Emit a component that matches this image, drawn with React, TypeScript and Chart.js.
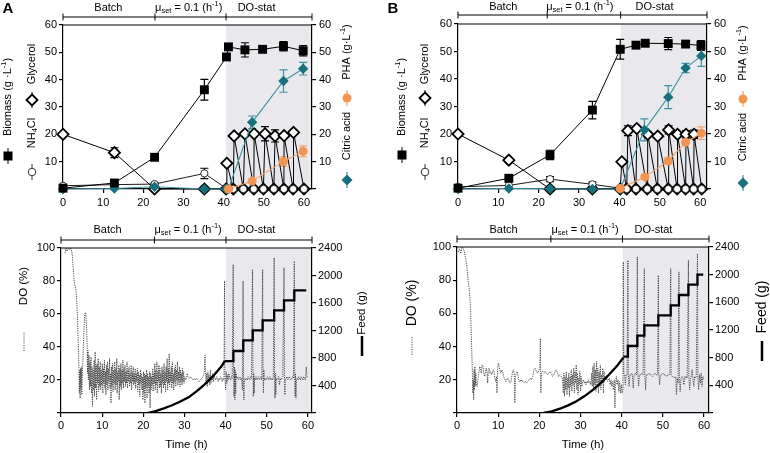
import React, { useEffect, useRef } from 'react';
import { Chart, registerables } from 'chart.js';
Chart.register(...registerables);

const FONT = "'Liberation Sans', Arial, Helvetica, sans-serif";
Chart.defaults.font.family = FONT;
Chart.defaults.color = '#000';

const TEAL = '#17707f';
const TEAL_LINE = '#3d93a5';
const ORANGE = '#f39552';
const ORANGE_LINE = '#f4a26b';
const SHADE = '#e9e9ed';

// ---------- Panel A (top) ----------
const aBiomassTime = [0, 12.8, 22.8, 35.2, 40.7, 41.2, 45.3, 49.7, 54.9, 59.8];
const aBiomass = [0.3, 2.2, 11.6, 36.3, 48.3, 52.0, 50.9, 51.1, 52.2, 50.6];
const aBiomassErr = [0, 0, 0, 3.8, 0, 0, 2.6, 0, 1.7, 1.9];

const aGlycerolTime = [0, 12.8, 22.8, 35.2, 40.6, 40.8, 42.4, 42.6, 44.9, 45.3, 47.5, 47.6, 49.9, 50.3, 52.5, 52.8, 55.0, 55.05, 57.3, 57.4, 60.0];
const aGlycerol = [20, 13.3, 0, 0, 0, 9.4, 0, 19.4, 0, 20.2, 0, 20.2, 0, 20.2, 0, 19.4, 0, 19.5, 0, 20.7, 0];
const aGlycerolErr = [0, 1.8, 0, 0, 0, 0, 0, 0, 0, 0, 0, 0, 0, 2.6, 0, 2.2, 0, 0, 0, 0, 0];

const aNh4Time = [0, 12.8, 22.8, 35.2, 40.6, 42.4, 44.9, 47.5, 49.9, 52.5, 55.0, 57.3, 60.0];
const aNh4 = [1.2, 1.6, 1.8, 5.7, 0.3, 0, 0, 0, 0, 0, 0, 0, 0];
const aNh4Err = [0, 0, 0.4, 1.9, 0, 0, 0, 0, 0, 0, 0, 0, 0];

const aCitricTime = [0, 12.8, 22.8, 35.2, 40.6, 41.2, 47.1, 54.9, 59.8];
const aCitric = [0, 0.2, 0.8, 0, 0, 0, 24.4, 39.5, 44.0];
const aCitricErr = [0, 0, 0, 0, 0, 0, 2.3, 4.1, 2.3];

const aPhaTime = [41.2, 47.1, 54.9, 59.8];
const aPha = [0, 2.9, 10.1, 13.8];
const aPhaErr = [0, 0, 1.7, 2.0];

// ---------- Panel B (top) ----------
const bBiomassTime = [0, 12.6, 22.8, 33.3, 40.2, 44.1, 46.4, 52.1, 56.4, 60.2];
const bBiomass = [0.3, 3.9, 12.4, 28.7, 50.8, 52.3, 53.0, 52.9, 52.7, 52.2];
const bBiomassErr = [0, 0, 1.7, 3.2, 3.6, 0.8, 0, 2.2, 0, 1.8];

const bGlycerolTime = [0, 12.6, 22.8, 33.3, 40.2, 40.6, 41.8, 42.1, 44.1, 44.3, 46.9, 47.0, 49.4, 49.5, 52.1, 52.2, 54.3, 54.4, 56.4, 56.5, 58.4, 58.5, 60.4];
const bGlycerol = [20, 10.5, 0, 0, 0, 9.9, 0, 21.2, 0, 22.0, 0, 19.9, 0, 19.2, 0, 21.5, 0, 19.9, 0, 19.9, 0, 19.9, 0];
const bGlycerolErr = [0, 0.7, 0, 0, 0, 0, 0, 1.8, 0, 0, 0, 0, 0, 0, 0, 1.5, 0, 0, 0, 1.3, 0, 1.5, 0];

const bNh4Time = [0, 12.6, 22.8, 33.3, 40.2, 41.8, 44.1, 46.9, 49.4, 52.1, 54.3, 56.4, 58.4, 60.4];
const bNh4 = [0.8, 1.3, 3.6, 1.7, 0.3, 0, 0, 0, 0, 0, 0, 0, 0, 0];
const bNh4Err = [0, 0, 0.9, 0.8, 0, 0, 0, 0, 0, 0, 0, 0, 0, 0];

const bCitricTime = [0, 12.6, 22.8, 33.3, 40.2, 46.2, 52.1, 56.4, 60.3];
const bCitric = [0, 0.2, 0.1, 0, 0, 21.5, 33.4, 44.0, 48.4];
const bCitricErr = [0, 0, 0, 0, 0, 4.0, 4.2, 1.7, 3.8];

const bPhaTime = [40.2, 46.3, 52.1, 56.4, 60.3];
const bPha = [0.2, 4.4, 10.2, 17.0, 20.3];
const bPhaErr = [0, 0, 1.2, 0, 2.3];

// ---------- Panel A (bottom): DO (%) and feed (g) ----------
const doA: [number, number][] = [
  [1.0, 97], [1.2, 100], [1.5, 98], [1.8, 100], [2.1, 99], [2.4, 100], [2.7, 97], [2.9, 90], [3.1, 83], [3.2, 80],
  [3.4, 77], [3.6, 75], [3.8, 70], [4.0, 58], [4.2, 42], [4.35, 28], [4.45, 12], [4.55, 26], [4.65, 9], [4.75, 27],
  [4.85, 15], [4.95, 28], [5.05, 11], [5.2, 24], [5.4, 38], [5.6, 52], [5.8, 60], [6.0, 61], [6.2, 52], [6.35, 42],
  [6.45, 24], [6.55, 38], [6.65, 20], [6.8, 35], [6.9, 14], [7.05, 31], [7.15, 16], [7.3, 34], [7.4, 12], [7.55, 28],
  [7.65, 4], [7.8, 26], [7.9, 14], [8.05, 32], [8.15, 10], [8.3, 37], [8.4, 15], [8.55, 29], [8.65, 8], [8.8, 30],
  [8.9, 18], [9.05, 33], [9.15, 13], [9.3, 28], [9.4, 16], [9.55, 31], [9.65, 14], [9.8, 26], [9.9, 17], [10.05, 30],
  [10.15, 12], [10.3, 27], [10.4, 18], [10.55, 32], [10.65, 15], [10.8, 25], [10.9, 11], [11.05, 29], [11.15, 17], [11.3, 31],
  [11.4, 14], [11.55, 27], [11.65, 19], [11.8, 33], [11.9, 15], [12.05, 24], [12.15, 6], [12.3, 28], [12.4, 16], [12.55, 30],
  [12.65, 13], [12.8, 26], [12.9, 18], [13.05, 31], [13.15, 14], [13.3, 27], [13.4, 17], [13.55, 33], [13.65, 12], [13.8, 25],
  [13.9, 19], [14.05, 29], [14.15, 8], [14.3, 27], [14.4, 16], [14.55, 30], [14.65, 14], [14.8, 26], [14.9, 18], [15.05, 32],
  [15.15, 15], [15.3, 27], [15.4, 19], [15.55, 29], [15.65, 16], [15.8, 25], [15.9, 18], [16.05, 31], [16.15, 15], [16.3, 26],
  [16.4, 19], [16.55, 28], [16.65, 16], [16.8, 24], [16.9, 18], [17.05, 29], [17.15, 14], [17.3, 25], [17.4, 19], [17.55, 28],
  [17.65, 17], [17.8, 24], [17.9, 18], [18.05, 27], [18.15, 15], [18.3, 24], [18.4, 19], [18.55, 27], [18.65, 13], [18.8, 25],
  [18.9, 17], [19.05, 23], [19.15, 10], [19.3, 26], [19.4, 18], [19.55, 24], [19.65, 14], [19.8, 22], [19.9, 8], [20.05, 25],
  [20.15, 12], [20.3, 24], [20.4, 6], [20.55, 23], [20.65, 15], [20.8, 26], [20.9, 9], [21.05, 24], [21.15, 16], [21.3, 22],
  [21.4, 12], [21.55, 25], [21.65, 3], [21.8, 24], [21.9, 14], [22.05, 22], [22.15, 17], [22.3, 27], [22.4, 13], [22.55, 24],
  [22.65, 18], [22.8, 30], [22.9, 14], [23.05, 26], [23.15, 17], [23.3, 31], [23.4, 12], [23.55, 25], [23.65, 19], [23.8, 29],
  [23.9, 15], [24.05, 27], [24.15, 16], [24.3, 24], [24.4, 12], [24.55, 28], [24.65, 18], [24.8, 26], [24.9, 15], [25.05, 30],
  [25.15, 17], [25.3, 25], [25.4, 13], [25.55, 28], [25.65, 19], [25.8, 33], [25.9, 14], [26.05, 27], [26.15, 18], [26.3, 36],
  [26.4, 16], [26.55, 25], [26.65, 19], [26.8, 28], [26.9, 15], [27.05, 31], [27.15, 18], [27.3, 24], [27.4, 14], [27.55, 27],
  [27.65, 19], [27.8, 29], [27.9, 16], [28.05, 26], [28.15, 20], [28.3, 31], [28.4, 17], [28.55, 25], [28.65, 19], [28.8, 28],
  [28.9, 16], [29.05, 26], [29.15, 19], [29.3, 24], [29.4, 17], [29.55, 27], [29.65, 19], [29.8, 25], [29.9, 18], [30.1, 22],
  [30.3, 20], [30.5, 21], [30.7, 24], [30.9, 22], [31.2, 21], [31.5, 22], [31.8, 21], [32.1, 20], [32.4, 21], [32.7, 20],
  [33.0, 21], [33.3, 20], [33.6, 19], [33.9, 20], [34.2, 21], [34.5, 22], [34.8, 24], [35.0, 35], [35.1, 26], [35.25, 18],
  [35.4, 24], [35.55, 16], [35.7, 25], [35.85, 19], [36.0, 23], [36.15, 17], [36.3, 26], [36.45, 18], [36.6, 22], [36.75, 20],
  [36.9, 24], [37.05, 19], [37.2, 23], [37.4, 21], [37.6, 20], [37.8, 22], [38.0, 21], [38.2, 19], [38.4, 21], [38.6, 20],
  [38.8, 22], [39.0, 21], [39.2, 19], [39.4, 21], [39.6, 20], [39.75, 80], [39.85, 22], [40.0, 14], [40.15, 25], [40.3, 18],
  [40.45, 23], [40.6, 20], [40.8, 24], [41.0, 21], [41.2, 20], [41.4, 22], [41.6, 21], [41.85, 90], [41.95, 30], [42.05, 10],
  [42.15, 28], [42.25, 8], [42.35, 26], [42.45, 12], [42.55, 24], [42.7, 21], [42.9, 22], [43.1, 20], [43.3, 21], [43.5, 22],
  [43.7, 20], [43.9, 21], [44.1, 14], [44.25, 80], [44.35, 20], [44.45, 8], [44.55, 18], [44.7, 21], [44.9, 20], [45.1, 21],
  [45.3, 20], [45.5, 22], [45.7, 21], [45.9, 20], [46.1, 22], [46.3, 21], [46.55, 87], [46.65, 25], [46.75, 10], [46.85, 24],
  [46.95, 12], [47.05, 21], [47.2, 20], [47.4, 22], [47.6, 20], [47.8, 21], [48.0, 22], [48.2, 20], [48.4, 21], [48.6, 22],
  [48.8, 20], [49.0, 87], [49.1, 22], [49.2, 12], [49.3, 26], [49.4, 20], [49.6, 21], [49.8, 20], [50.0, 21], [50.2, 22],
  [50.4, 20], [50.6, 21], [50.8, 22], [51.0, 20], [51.2, 21], [51.4, 20], [51.6, 22], [51.8, 94], [51.9, 25], [52.0, 9],
  [52.1, 24], [52.2, 11], [52.3, 21], [52.5, 20], [52.7, 21], [52.9, 22], [53.1, 17], [53.3, 21], [53.5, 20], [53.7, 21],
  [53.9, 22], [54.2, 88], [54.3, 23], [54.4, 11], [54.5, 20], [54.7, 21], [54.9, 22], [55.1, 20], [55.3, 21], [55.5, 22],
  [55.7, 21], [55.9, 20], [56.1, 21], [56.3, 22], [56.5, 21], [56.7, 92], [56.8, 22], [56.9, 10], [57.0, 24], [57.1, 9],
  [57.2, 20], [57.4, 21], [57.6, 20], [57.8, 22], [58.0, 21], [58.2, 20], [58.4, 22], [58.6, 21], [58.8, 20], [59.0, 22],
  [59.2, 21], [59.4, 20], [59.6, 28], [59.8, 21],
];
const feedCurveTimeA = [21, 23, 25, 27, 29, 31, 33, 35, 37, 39, 39.8];
const feedCurveA = [0, 28, 68, 112, 168, 228, 318, 420, 540, 680, 756];
const feedStepTimeA = [39.8, 41.9, 44.3, 46.6, 49.0, 51.8, 54.2, 56.7, 59.6];
const feedStepA = [756, 902, 1057, 1203, 1348, 1494, 1639, 1785, 1785];

// ---------- Panel B (bottom) ----------
const doB: [number, number][] = [
  [0.3, 97], [0.6, 99], [0.9, 96], [1.2, 100], [1.5, 99], [1.8, 97], [2.1, 93], [2.4, 88], [2.7, 80], [2.9, 76],
  [3.1, 70], [3.3, 62], [3.5, 45], [3.7, 28], [3.85, 12], [3.95, 20], [4.05, 8], [4.15, 26], [4.25, 14], [4.35, 28],
  [4.45, 16], [4.55, 24], [4.7, 18], [4.9, 16], [5.1, 20], [5.3, 24], [5.5, 28], [5.7, 27], [5.9, 24], [6.1, 29],
  [6.3, 28], [6.5, 24], [6.7, 22], [6.9, 25], [7.1, 27], [7.3, 24], [7.45, 18], [7.6, 26], [7.8, 27], [8.0, 24],
  [8.2, 25], [8.4, 23], [8.6, 24], [8.8, 26], [9.0, 25], [9.2, 21], [9.4, 19], [9.6, 22], [9.7, 12], [9.8, 20],
  [9.9, 28], [10.1, 30], [10.3, 27], [10.5, 25], [10.7, 24], [10.9, 26], [11.1, 25], [11.3, 22], [11.5, 21], [11.7, 20],
  [11.9, 19], [12.1, 20], [12.3, 21], [12.5, 20], [12.7, 19], [12.9, 18], [13.1, 19], [13.3, 22], [13.5, 25], [13.7, 26],
  [13.9, 24], [14.05, 6], [14.2, 22], [14.4, 24], [14.6, 25], [14.8, 23], [15.0, 20], [15.2, 19], [15.4, 20], [15.6, 19],
  [15.8, 20], [16.0, 19], [16.3, 18], [16.6, 19], [16.9, 18], [17.2, 19], [17.5, 20], [17.8, 21], [18.1, 20], [18.4, 22],
  [18.7, 26], [19.0, 27], [19.3, 25], [19.6, 24], [19.9, 26], [20.1, 27], [20.25, 45], [20.35, 12], [20.5, 24], [20.8, 25],
  [21.1, 24], [21.4, 25], [21.7, 24], [22.0, 23], [22.3, 24], [22.6, 25], [22.9, 24], [23.2, 22], [23.5, 23], [23.8, 25],
  [24.1, 26], [24.4, 24], [24.7, 22], [25.0, 23], [25.3, 22], [25.6, 21], [25.8, 12], [25.95, 24], [26.1, 10], [26.25, 22],
  [26.4, 14], [26.55, 25], [26.7, 11], [26.85, 21], [27.0, 15], [27.15, 24], [27.3, 10], [27.45, 22], [27.6, 16], [27.75, 26],
  [27.9, 13], [28.05, 23], [28.2, 17], [28.35, 27], [28.5, 12], [28.65, 25], [28.8, 18], [28.95, 29], [29.1, 14], [29.25, 24],
  [29.4, 11], [29.55, 21], [29.7, 17], [29.85, 25], [30.0, 13], [30.15, 22], [30.3, 16], [30.5, 19], [30.7, 20], [30.9, 18],
  [31.1, 19], [31.3, 17], [31.5, 19], [31.7, 18], [31.9, 20], [32.1, 18], [32.3, 19], [32.5, 17], [32.7, 24], [32.85, 16],
  [33.0, 28], [33.15, 14], [33.3, 30], [33.45, 17], [33.6, 26], [33.75, 13], [33.9, 31], [34.05, 18], [34.2, 27], [34.35, 12],
  [34.5, 25], [34.65, 16], [34.8, 29], [34.95, 14], [35.1, 23], [35.25, 18], [35.4, 27], [35.55, 12], [35.7, 25], [35.85, 19],
  [36.0, 22], [36.2, 20], [36.4, 21], [36.6, 19], [36.8, 20], [37.0, 21], [37.2, 17], [37.4, 20], [37.6, 16], [37.8, 19],
  [38.0, 14], [38.2, 20], [38.35, 3], [38.5, 18], [38.7, 22], [38.9, 17], [39.1, 20], [39.3, 13], [39.5, 19], [39.7, 12],
  [39.9, 17], [40.1, 12], [40.3, 14], [40.4, 91], [40.5, 24], [40.7, 23], [40.9, 17], [41.1, 23], [41.3, 23], [41.5, 92],
  [41.6, 24], [41.8, 16], [42.0, 23], [42.2, 23], [42.4, 24], [42.6, 23], [42.8, 15], [43.0, 23], [43.2, 23], [43.4, 24],
  [43.6, 23], [43.8, 94], [43.9, 24], [44.1, 16], [44.3, 23], [44.6, 23], [44.9, 24], [45.2, 23], [45.5, 87], [45.6, 24],
  [45.8, 14], [46.0, 23], [46.3, 23], [46.6, 24], [46.9, 23], [47.2, 23], [47.5, 22], [47.8, 23], [48.1, 24], [48.4, 23],
  [48.7, 23], [48.9, 83], [49.0, 24], [49.2, 17], [49.4, 23], [49.7, 23], [50.0, 24], [50.3, 23], [50.6, 23], [50.9, 22],
  [51.2, 23], [51.5, 23], [51.7, 24], [51.9, 87], [52.0, 23], [52.2, 22], [52.5, 22], [52.8, 21], [53.1, 22], [53.3, 11],
  [53.5, 21], [53.7, 18], [53.9, 85], [54.0, 22], [54.2, 13], [54.4, 21], [54.7, 22], [54.9, 21], [55.1, 17], [55.3, 22],
  [55.5, 21], [55.7, 22], [55.9, 21], [56.2, 92], [56.3, 22], [56.5, 14], [56.7, 21], [56.9, 22], [57.1, 26], [57.3, 21],
  [57.5, 16], [57.7, 22], [57.9, 21], [58.1, 22], [58.4, 96], [58.5, 21], [58.7, 14], [58.9, 23], [59.1, 18], [59.3, 24],
  [59.5, 16], [59.7, 22], [59.9, 20],
];
const feedCurveTimeB = [21, 23, 25, 27, 29, 31, 33, 35, 37, 39, 40.4];
const feedCurveB = [0, 24, 62, 110, 170, 245, 335, 440, 560, 690, 800];
const feedStepTimeB = [40.4, 41.5, 43.8, 45.5, 48.9, 51.9, 53.9, 56.2, 58.4, 59.8];
const feedStepB = [814, 969, 1118, 1268, 1412, 1557, 1706, 1855, 2000, 2000];

// ---------- text ----------
type Seg = { t: string; s?: 'sub' | 'sup' };
const phaseLabels: Seg[][] = [
  [{ t: 'Batch' }],
  [{ t: 'μ' }, { t: 'set', s: 'sub' }, { t: ' = 0.1 (h' }, { t: '-1', s: 'sup' }, { t: ')' }],
  [{ t: 'DO-stat' }],
];
const biomassLabel: Seg[] = [{ t: 'Biomass (g' }, { t: ' ·L' }, { t: '-1', s: 'sup' }, { t: ')' }];
const glycerolLabel: Seg[] = [{ t: 'Glycerol' }];
const nh4Label: Seg[] = [{ t: 'NH' }, { t: '4', s: 'sub' }, { t: 'Cl' }];
const phaLabel: Seg[] = [{ t: 'PHA (g' }, { t: '·L' }, { t: '-1', s: 'sup' }, { t: ')' }];
const citricLabel: Seg[] = [{ t: 'Citric acid' }];
const doLabel: Seg[] = [{ t: 'DO (%)' }];
const feedLabel: Seg[] = [{ t: 'Feed (g)' }];

const pts = (xs: number[], ys: number[]) => xs.map((x, i) => ({ x, y: ys[i] }));
const pairPts = (arr: [number, number][]) => arr.map(([x, y]) => ({ x, y }));

function drawRich(ctx: CanvasRenderingContext2D, segs: Seg[], cx: number, cy: number, size: number, rot: number, bold = false) {
  ctx.save();
  ctx.translate(cx, cy);
  ctx.rotate(rot);
  const fontOf = (s?: string) => `${bold ? 'bold ' : ''}${s ? size * 0.68 : size}px ${FONT}`;
  let total = 0;
  const ws = segs.map((sg) => {
    ctx.font = fontOf(sg.s);
    const w = ctx.measureText(sg.t).width;
    total += w;
    return w;
  });
  let x = -total / 2;
  ctx.textBaseline = 'middle';
  ctx.textAlign = 'left';
  ctx.fillStyle = '#000';
  segs.forEach((sg, i) => {
    ctx.font = fontOf(sg.s);
    const dy = sg.s === 'sub' ? size * 0.3 : sg.s === 'sup' ? -size * 0.35 : 0;
    ctx.fillText(sg.t, x, dy);
    x += ws[i];
  });
  ctx.restore();
}

function drawMarker(ctx: CanvasRenderingContext2D, kind: string, x: number, y: number) {
  ctx.save();
  const vline = (len: number, color: string, w: number, dash: number[] = []) => {
    ctx.strokeStyle = color;
    ctx.lineWidth = w;
    ctx.setLineDash(dash);
    ctx.beginPath();
    ctx.moveTo(x, y - len);
    ctx.lineTo(x, y + len);
    ctx.stroke();
    ctx.setLineDash([]);
  };
  const diamond = (r: number) => {
    ctx.beginPath();
    ctx.moveTo(x, y - r);
    ctx.lineTo(x + r, y);
    ctx.lineTo(x, y + r);
    ctx.lineTo(x - r, y);
    ctx.closePath();
  };
  if (kind === 'square') {
    vline(8, '#000', 1);
    ctx.fillStyle = '#000';
    ctx.fillRect(x - 4.5, y - 4.5, 9, 9);
  } else if (kind === 'diamond') {
    vline(8, '#000', 1);
    diamond(5.5);
    ctx.fillStyle = '#fff';
    ctx.fill();
    ctx.lineWidth = 1.8;
    ctx.strokeStyle = '#000';
    ctx.stroke();
  } else if (kind === 'circle') {
    vline(8, '#000', 0.8);
    ctx.beginPath();
    ctx.arc(x, y, 3.8, 0, Math.PI * 2);
    ctx.fillStyle = '#fff';
    ctx.fill();
    ctx.lineWidth = 0.8;
    ctx.strokeStyle = '#000';
    ctx.stroke();
  } else if (kind === 'orange') {
    vline(8, ORANGE_LINE, 1.2);
    ctx.beginPath();
    ctx.arc(x, y, 4.5, 0, Math.PI * 2);
    ctx.fillStyle = ORANGE;
    ctx.fill();
  } else if (kind === 'teal') {
    vline(8, TEAL_LINE, 1.2);
    diamond(5.5);
    ctx.fillStyle = TEAL;
    ctx.fill();
  } else if (kind === 'dotted') {
    vline(9, '#555', 1, [1.2, 1.2]);
  } else if (kind === 'thick') {
    vline(10, '#000', 2.5);
  }
  ctx.restore();
}

type SideLabel = { segs: Seg[]; x: number; y: number; size: number; marker: string; my: number };
type Decor = {
  shadeFrom: number;
  bracketY: number;
  labelY: number;
  stops: number[];
  labelX: number[];
  side: SideLabel[];
  letter?: string;
};

function makeDecor(cfg: Decor) {
  return {
    id: 'decor',
    beforeDraw(chart: any) {
      const { ctx, chartArea: ca, scales } = chart;
      const sx = scales.x.getPixelForValue(cfg.shadeFrom);
      ctx.save();
      ctx.fillStyle = SHADE;
      ctx.fillRect(sx, ca.top, ca.right - sx, ca.bottom - ca.top);
      ctx.restore();
    },
    beforeDatasetsDraw(chart: any) {
      const { ctx, scales } = chart;
      ctx.save();
      chart.data.datasets.forEach((ds: any) => {
        if (!ds.errs) return;
        const ys = scales[ds.yAxisID || 'y'];
        ds.data.forEach((p: any, i: number) => {
          const e = ds.errs[i];
          if (!e) return;
          const px = scales.x.getPixelForValue(p.x);
          const y1 = ys.getPixelForValue(p.y + e);
          const y2 = ys.getPixelForValue(p.y - e);
          ctx.strokeStyle = ds.errColor;
          ctx.lineWidth = 1.2;
          ctx.beginPath();
          ctx.moveTo(px, y1);
          ctx.lineTo(px, y2);
          ctx.moveTo(px - 4, y1);
          ctx.lineTo(px + 4, y1);
          ctx.moveTo(px - 4, y2);
          ctx.lineTo(px + 4, y2);
          ctx.stroke();
        });
      });
      ctx.restore();
    },
    afterDraw(chart: any) {
      const { ctx, chartArea: ca, scales } = chart;
      const xs = scales.x;
      ctx.save();
      // top frame
      ctx.strokeStyle = '#000';
      ctx.lineWidth = 1.2;
      ctx.beginPath();
      ctx.moveTo(ca.left, ca.top);
      ctx.lineTo(ca.right, ca.top);
      ctx.stroke();
      // phase bracket
      const stopPx = cfg.stops.map((v) => (v < 0 ? ca.right : xs.getPixelForValue(v)));
      ctx.lineWidth = 1;
      ctx.beginPath();
      ctx.moveTo(stopPx[0], cfg.bracketY);
      ctx.lineTo(stopPx[stopPx.length - 1], cfg.bracketY);
      stopPx.forEach((p) => {
        ctx.moveTo(p, cfg.bracketY - 3.5);
        ctx.lineTo(p, cfg.bracketY + 3.5);
      });
      ctx.stroke();
      ctx.restore();
      phaseLabels.forEach((segs, i) => {
        drawRich(ctx, segs, xs.getPixelForValue(cfg.labelX[i]), cfg.labelY, 11, 0);
      });
      cfg.side.forEach((s) => {
        drawRich(ctx, s.segs, s.x, s.y, s.size, -Math.PI / 2);
        drawMarker(ctx, s.marker, s.x, s.my);
      });
      if (cfg.letter) drawRich(ctx, [{ t: cfg.letter }], 8, 9, 15, 0, true);
    },
  };
}

const tickFont = { family: FONT, size: 11 };
const axisGrid = { display: true, drawOnChartArea: false, drawTicks: true, tickLength: 4, color: '#000', lineWidth: 1.2 };
const axisBorder = { display: true, color: '#000', width: 1.2 };

function fixW(w: number) {
  return (s: any) => {
    s.width = w;
    s.paddingTop = 0;
    s.paddingBottom = 0;
  };
}
function fixH(h: number) {
  return (s: any) => {
    s.height = h;
    s.paddingLeft = 0;
    s.paddingRight = 0;
  };
}

type TopData = {
  biomass: any[]; biomassErr: number[];
  glycerol: any[]; glycerolErr: number[];
  nh4: any[]; nh4Err: number[];
  citric: any[]; citricErr: number[];
  pha: any[]; phaErr: number[];
};

function topConfig(d: TopData, geo: { L: number; R: number; T: number; B: number; xmax: number }, decor: Decor) {
  const common = { clip: false as any, tension: 0, showLine: true };
  return {
    type: 'line',
    data: {
      datasets: [
        {
          ...common, label: 'Biomass', data: d.biomass, errs: d.biomassErr, errColor: '#000', order: 0,
          borderColor: '#000', borderWidth: 1, pointStyle: 'rect', pointRadius: 6.3,
          pointBackgroundColor: '#000', pointBorderColor: '#000', pointBorderWidth: 0, yAxisID: 'y',
        },
        {
          ...common, label: 'PHA', data: d.pha, errs: d.phaErr, errColor: ORANGE_LINE, order: 1,
          borderColor: ORANGE_LINE, borderWidth: 1.1, pointStyle: 'circle', pointRadius: 4.5,
          pointBackgroundColor: ORANGE, pointBorderColor: ORANGE, pointBorderWidth: 0, yAxisID: 'y1',
        },
        {
          ...common, label: 'Citric acid', data: d.citric, errs: d.citricErr, errColor: TEAL_LINE, order: 2,
          borderColor: TEAL_LINE, borderWidth: 1.1, pointStyle: 'rectRot', pointRadius: 5.2,
          pointBackgroundColor: TEAL, pointBorderColor: TEAL, pointBorderWidth: 0, yAxisID: 'y1',
        },
        {
          ...common, label: 'NH4Cl', data: d.nh4, errs: d.nh4Err, errColor: '#000', order: 3,
          borderColor: '#000', borderWidth: 0.9, pointStyle: 'circle', pointRadius: 3.6,
          pointBackgroundColor: '#fff', pointBorderColor: '#000', pointBorderWidth: 0.8, yAxisID: 'y',
        },
        {
          ...common, label: 'Glycerol', data: d.glycerol, errs: d.glycerolErr, errColor: '#000', order: 4,
          borderColor: '#000', borderWidth: 1, pointStyle: 'rectRot', pointRadius: 5.6,
          pointBackgroundColor: '#fff', pointBorderColor: '#000', pointBorderWidth: 1.8, yAxisID: 'y',
        },
      ],
    },
    options: {
      animation: false,
      responsive: false,
      events: [],
      layout: { padding: { top: geo.T, left: 0, right: 0, bottom: 0 } },
      plugins: { legend: { display: false }, tooltip: { enabled: false } },
      scales: {
        x: {
          type: 'linear', position: 'bottom', min: 0, max: geo.xmax,
          grid: axisGrid, border: axisBorder,
          ticks: { stepSize: 10, includeBounds: false, font: tickFont, color: '#000', padding: 3, maxRotation: 0 },
          afterFit: fixH(geo.B),
        },
        y: {
          type: 'linear', position: 'left', min: 0, max: 60,
          grid: axisGrid, border: axisBorder,
          ticks: { stepSize: 10, font: tickFont, color: '#000', padding: 2, callback: (v: number) => (v === 0 ? '' : v) },
          afterFit: fixW(geo.L),
        },
        y1: {
          type: 'linear', position: 'right', min: 0, max: 60,
          grid: axisGrid, border: axisBorder,
          ticks: { stepSize: 10, font: tickFont, color: '#000', padding: 3, callback: (v: number) => (v === 0 ? '' : v) },
          afterFit: fixW(geo.R),
        },
      },
    },
    plugins: [makeDecor(decor)],
  };
}

function bottomConfig(
  doPts: any[], curve: any[], steps: any[],
  geo: { L: number; R: number; T: number; B: number; xmax: number }, decor: Decor,
) {
  return {
    type: 'line',
    data: {
      datasets: [
        {
          label: 'Feed curve', data: curve, yAxisID: 'y1', borderColor: '#000', borderWidth: 2.3,
          pointRadius: 0, tension: 0, order: 0,
        },
        {
          label: 'Feed steps', data: steps, yAxisID: 'y1', borderColor: '#000', borderWidth: 2.3,
          pointRadius: 0, stepped: 'before', order: 1,
        },
        {
          label: 'DO', data: doPts, yAxisID: 'y', borderColor: '#3a3a3a', borderWidth: 0.9,
          borderDash: [1.2, 1.1], pointRadius: 0, tension: 0, order: 2,
        },
      ],
    },
    options: {
      animation: false,
      responsive: false,
      events: [],
      layout: { padding: { top: geo.T, left: 0, right: 0, bottom: 0 } },
      plugins: { legend: { display: false }, tooltip: { enabled: false } },
      scales: {
        x: {
          type: 'linear', position: 'bottom', min: 0, max: geo.xmax,
          grid: axisGrid, border: axisBorder,
          ticks: { stepSize: 10, includeBounds: false, font: tickFont, color: '#000', padding: 2, maxRotation: 0 },
          title: { display: true, text: 'Time (h)', font: { family: FONT, size: 11.5 }, color: '#000', padding: { top: 0, bottom: 1 } },
          afterFit: fixH(geo.B),
        },
        y: {
          type: 'linear', position: 'left', min: 0, max: 100,
          grid: axisGrid, border: axisBorder,
          ticks: { stepSize: 20, font: tickFont, color: '#000', padding: 2, callback: (v: number) => (v === 0 ? '' : v) },
          afterFit: fixW(geo.L),
        },
        y1: {
          type: 'linear', position: 'right', min: 0, max: 2400,
          grid: axisGrid, border: axisBorder,
          ticks: { stepSize: 400, font: tickFont, color: '#000', padding: 2, callback: (v: number) => (v === 0 ? '' : v) },
          afterFit: fixW(geo.R),
        },
      },
    },
    plugins: [makeDecor(decor)],
  };
}

function ChartBox({ left, top, width, height, make }: { left: number; top: number; width: number; height: number; make: () => any }) {
  const ref = useRef<HTMLCanvasElement | null>(null);
  useEffect(() => {
    if (!ref.current) return;
    const chart = new Chart(ref.current, make());
    return () => chart.destroy();
  }, []);
  return (
    <canvas
      ref={ref}
      width={width}
      height={height}
      style={{ position: 'absolute', left, top, width, height, display: 'block' }}
    />
  );
}

const makeTopA = () =>
  topConfig(
    {
      biomass: pts(aBiomassTime, aBiomass), biomassErr: aBiomassErr,
      glycerol: pts(aGlycerolTime, aGlycerol), glycerolErr: aGlycerolErr,
      nh4: pts(aNh4Time, aNh4), nh4Err: aNh4Err,
      citric: pts(aCitricTime, aCitric), citricErr: aCitricErr,
      pha: pts(aPhaTime, aPha), phaErr: aPhaErr,
    },
    { L: 63, R: 73, T: 25, B: 26, xmax: 62 },
    {
      shadeFrom: 40.6, bracketY: 17, labelY: 8, stops: [0, 22.9, 40.6, -1], labelX: [11.3, 31.3, 48.2], letter: 'A',
      side: [
        { segs: biomassLabel, x: 8, y: 97, size: 11, marker: 'square', my: 156 },
        { segs: glycerolLabel, x: 32, y: 64, size: 11, marker: 'diamond', my: 100 },
        { segs: nh4Label, x: 32, y: 133, size: 11, marker: 'circle', my: 172 },
        { segs: phaLabel, x: 347, y: 52, size: 11, marker: 'orange', my: 98 },
        { segs: citricLabel, x: 347, y: 136, size: 11, marker: 'teal', my: 180 },
      ],
    },
  );

const makeTopB = () =>
  topConfig(
    {
      biomass: pts(bBiomassTime, bBiomass), biomassErr: bBiomassErr,
      glycerol: pts(bGlycerolTime, bGlycerol), glycerolErr: bGlycerolErr,
      nh4: pts(bNh4Time, bNh4), nh4Err: bNh4Err,
      citric: pts(bCitricTime, bCitric), citricErr: bCitricErr,
      pha: pts(bPhaTime, bPha), phaErr: bPhaErr,
    },
    { L: 73, R: 63, T: 24, B: 26, xmax: 61.7 },
    {
      shadeFrom: 40.3, bracketY: 15, labelY: 7, stops: [0, 22.1, 40.3, -1], labelX: [11.2, 30.2, 48.7], letter: 'B',
      side: [
        { segs: biomassLabel, x: 17, y: 97, size: 11, marker: 'square', my: 155 },
        { segs: glycerolLabel, x: 40, y: 64, size: 11, marker: 'diamond', my: 98 },
        { segs: nh4Label, x: 40, y: 133, size: 11, marker: 'circle', my: 172 },
        { segs: phaLabel, x: 358, y: 53, size: 11, marker: 'orange', my: 99 },
        { segs: citricLabel, x: 358, y: 137, size: 11, marker: 'teal', my: 183 },
      ],
    },
  );

const makeBottomA = () =>
  bottomConfig(
    pairPts(doA), pts(feedCurveTimeA, feedCurveA), pts(feedStepTimeA, feedStepA),
    { L: 61, R: 73, T: 28, B: 40, xmax: 61 },
    {
      shadeFrom: 40.1, bracketY: 20, labelY: 10, stops: [0, 22.7, 40.1, -1], labelX: [11.3, 30.9, 47.5],
      side: [
        { segs: doLabel, x: 24, y: 66, size: 11.5, marker: 'dotted', my: 122 },
        { segs: feedLabel, x: 362, y: 93, size: 11.5, marker: 'thick', my: 126 },
      ],
    },
  );

const makeBottomB = () =>
  bottomConfig(
    pairPts(doB), pts(feedCurveTimeB, feedCurveB), pts(feedStepTimeB, feedStepB),
    { L: 72, R: 61, T: 27, B: 40, xmax: 61.2 },
    {
      shadeFrom: 40.2, bracketY: 19, labelY: 10, stops: [0, 22.8, 40.2, -1], labelX: [11.3, 31.1, 47.7],
      side: [
        { segs: doLabel, x: 27, y: 83, size: 14, marker: 'dotted', my: 126 },
        { segs: feedLabel, x: 377, y: 87, size: 14, marker: 'thick', my: 131 },
      ],
    },
  );

export default function App() {
  return (
    <div style={{ position: 'absolute', left: 0, top: 0, width: 770, height: 453, background: '#fff', overflow: 'hidden' }}>
      <ChartBox left={0} top={0} width={385} height={215} make={makeTopA} />
      <ChartBox left={385} top={0} width={385} height={215} make={makeTopB} />
      <ChartBox left={0} top={220} width={385} height={233} make={makeBottomA} />
      <ChartBox left={385} top={220} width={385} height={233} make={makeBottomB} />
    </div>
  );
}
